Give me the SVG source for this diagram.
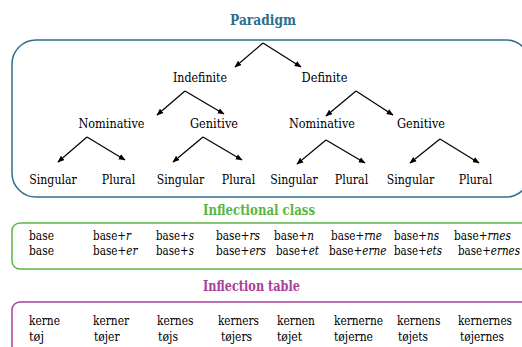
<svg xmlns="http://www.w3.org/2000/svg" width="522" height="347" viewBox="0 0 522 347">
<defs>
<marker id="ah" viewBox="0 0 10 10" refX="9" refY="5" markerWidth="7" markerHeight="7" orient="auto" markerUnits="userSpaceOnUse">
<path d="M0,1 L10,5 L0,9 z" fill="#000"/>
</marker>
</defs>
<style>
text{font-family:"DejaVu Serif",serif;font-size:12.8px;fill:#000}
.t{font-weight:bold;font-size:14px;text-anchor:middle}
.m{text-anchor:middle}
.c line{stroke:#000;stroke-width:1.2;marker-end:url(#ah)}
</style>
<rect x="12" y="40" width="518" height="157" rx="24" fill="none" stroke="#2e6f8e" stroke-width="1.5"/>
<rect x="12" y="223" width="518" height="46" rx="8" fill="none" stroke="#5cb545" stroke-width="1.5"/>
<rect x="12" y="302" width="518" height="60" rx="8" fill="none" stroke="#a8409a" stroke-width="1.5"/>
<text class="t" x="263" y="25" style="fill:#2a6f8f" textLength="66" lengthAdjust="spacingAndGlyphs">Paradigm</text>
<text class="t" x="259" y="215" style="fill:#5bb544" textLength="112" lengthAdjust="spacingAndGlyphs">Inflectional class</text>
<text class="t" x="251.5" y="291" style="fill:#a8409a" textLength="97" lengthAdjust="spacingAndGlyphs">Inflection table</text>
<g class="c" id="connectors">
<line x1="263" y1="43" x2="235" y2="67"/>
<line x1="263" y1="43" x2="301" y2="67"/>
<line x1="185" y1="91" x2="157" y2="115"/>
<line x1="185" y1="91" x2="224" y2="114"/>
<line x1="356" y1="91" x2="326" y2="116"/>
<line x1="356" y1="91" x2="393" y2="115"/>
<line x1="87" y1="137" x2="58" y2="162"/>
<line x1="87" y1="137" x2="125" y2="160"/>
<line x1="203" y1="137" x2="173" y2="162"/>
<line x1="203" y1="137" x2="242" y2="160"/>
<line x1="326" y1="140" x2="297" y2="164"/>
<line x1="326" y1="140" x2="365" y2="163"/>
<line x1="440" y1="139" x2="410" y2="163"/>
<line x1="440" y1="139" x2="479" y2="163"/>
</g>
<g id="indefinite"><text class="m" x="200" y="82" textLength="54" lengthAdjust="spacingAndGlyphs">Indefinite</text></g>
<g id="definite"><text class="m" x="324.5" y="82" textLength="46" lengthAdjust="spacingAndGlyphs">Definite</text></g>
<g id="nom1"><text class="m" x="111.5" y="128" textLength="66" lengthAdjust="spacingAndGlyphs">Nominative</text></g>
<g id="gen1"><text class="m" x="214" y="128" textLength="48" lengthAdjust="spacingAndGlyphs">Genitive</text></g>
<g id="nom2"><text class="m" x="322" y="128" textLength="66" lengthAdjust="spacingAndGlyphs">Nominative</text></g>
<g id="gen2"><text class="m" x="421" y="128" textLength="48" lengthAdjust="spacingAndGlyphs">Genitive</text></g>
<g id="leaf1"><text class="m" x="53" y="184" textLength="47.5" lengthAdjust="spacingAndGlyphs">Singular</text></g>
<g id="leaf2"><text class="m" x="118.5" y="184" textLength="33.5" lengthAdjust="spacingAndGlyphs">Plural</text></g>
<g id="leaf3"><text class="m" x="180.5" y="184" textLength="47.5" lengthAdjust="spacingAndGlyphs">Singular</text></g>
<g id="leaf4"><text class="m" x="238.5" y="184" textLength="33.5" lengthAdjust="spacingAndGlyphs">Plural</text></g>
<g id="leaf5"><text class="m" x="294" y="184" textLength="47.5" lengthAdjust="spacingAndGlyphs">Singular</text></g>
<g id="leaf6"><text class="m" x="351.5" y="184" textLength="33.5" lengthAdjust="spacingAndGlyphs">Plural</text></g>
<g id="leaf7"><text class="m" x="410.5" y="184" textLength="47.5" lengthAdjust="spacingAndGlyphs">Singular</text></g>
<g id="leaf8"><text class="m" x="475.5" y="184" textLength="33.5" lengthAdjust="spacingAndGlyphs">Plural</text></g>
<g id="classes">
<text x="29" y="240" textLength="25" lengthAdjust="spacingAndGlyphs">base</text>
<text x="93" y="240" textLength="38" lengthAdjust="spacingAndGlyphs">base+<tspan font-style="italic">r</tspan></text>
<text x="156" y="240" textLength="38" lengthAdjust="spacingAndGlyphs">base+<tspan font-style="italic">s</tspan></text>
<text x="216" y="240" textLength="44" lengthAdjust="spacingAndGlyphs">base+<tspan font-style="italic">rs</tspan></text>
<text x="274" y="240" textLength="40" lengthAdjust="spacingAndGlyphs">base+<tspan font-style="italic">n</tspan></text>
<text x="331" y="240" textLength="51" lengthAdjust="spacingAndGlyphs">base+<tspan font-style="italic">rne</tspan></text>
<text x="394" y="240" textLength="45" lengthAdjust="spacingAndGlyphs">base+<tspan font-style="italic">ns</tspan></text>
<text x="454" y="240" textLength="57" lengthAdjust="spacingAndGlyphs">base+<tspan font-style="italic">rnes</tspan></text>
<text x="29" y="255" textLength="25" lengthAdjust="spacingAndGlyphs">base</text>
<text x="93" y="255" textLength="44.5" lengthAdjust="spacingAndGlyphs">base+<tspan font-style="italic">er</tspan></text>
<text x="156" y="255" textLength="38" lengthAdjust="spacingAndGlyphs">base+<tspan font-style="italic">s</tspan></text>
<text x="216" y="255" textLength="50" lengthAdjust="spacingAndGlyphs">base+<tspan font-style="italic">ers</tspan></text>
<text x="276" y="255" textLength="43" lengthAdjust="spacingAndGlyphs">base+<tspan font-style="italic">et</tspan></text>
<text x="329" y="255" textLength="57.5" lengthAdjust="spacingAndGlyphs">base+<tspan font-style="italic">erne</tspan></text>
<text x="394" y="255" textLength="48" lengthAdjust="spacingAndGlyphs">base+<tspan font-style="italic">ets</tspan></text>
<text x="458" y="255" textLength="62" lengthAdjust="spacingAndGlyphs">base+<tspan font-style="italic">ernes</tspan></text>
</g>
<g id="table">
<text x="29" y="325" textLength="31" lengthAdjust="spacingAndGlyphs">kerne</text>
<text x="93" y="325" textLength="36" lengthAdjust="spacingAndGlyphs">kerner</text>
<text x="157" y="325" textLength="36.5" lengthAdjust="spacingAndGlyphs">kernes</text>
<text x="218" y="325" textLength="41" lengthAdjust="spacingAndGlyphs">kerners</text>
<text x="277" y="325" textLength="38" lengthAdjust="spacingAndGlyphs">kernen</text>
<text x="334" y="325" textLength="49" lengthAdjust="spacingAndGlyphs">kernerne</text>
<text x="397" y="325" textLength="43.5" lengthAdjust="spacingAndGlyphs">kernens</text>
<text x="458" y="325" textLength="54" lengthAdjust="spacingAndGlyphs">kernernes</text>
<text x="29" y="341" textLength="15" lengthAdjust="spacingAndGlyphs">tøj</text>
<text x="94" y="341" textLength="25.5" lengthAdjust="spacingAndGlyphs">tøjer</text>
<text x="158" y="341" textLength="20" lengthAdjust="spacingAndGlyphs">tøjs</text>
<text x="221" y="341" textLength="31" lengthAdjust="spacingAndGlyphs">tøjers</text>
<text x="277" y="341" textLength="25" lengthAdjust="spacingAndGlyphs">tøjet</text>
<text x="334" y="341" textLength="39" lengthAdjust="spacingAndGlyphs">tøjerne</text>
<text x="398" y="341" textLength="30" lengthAdjust="spacingAndGlyphs">tøjets</text>
<text x="460" y="341" textLength="44" lengthAdjust="spacingAndGlyphs">tøjernes</text>
</g>
</svg>
